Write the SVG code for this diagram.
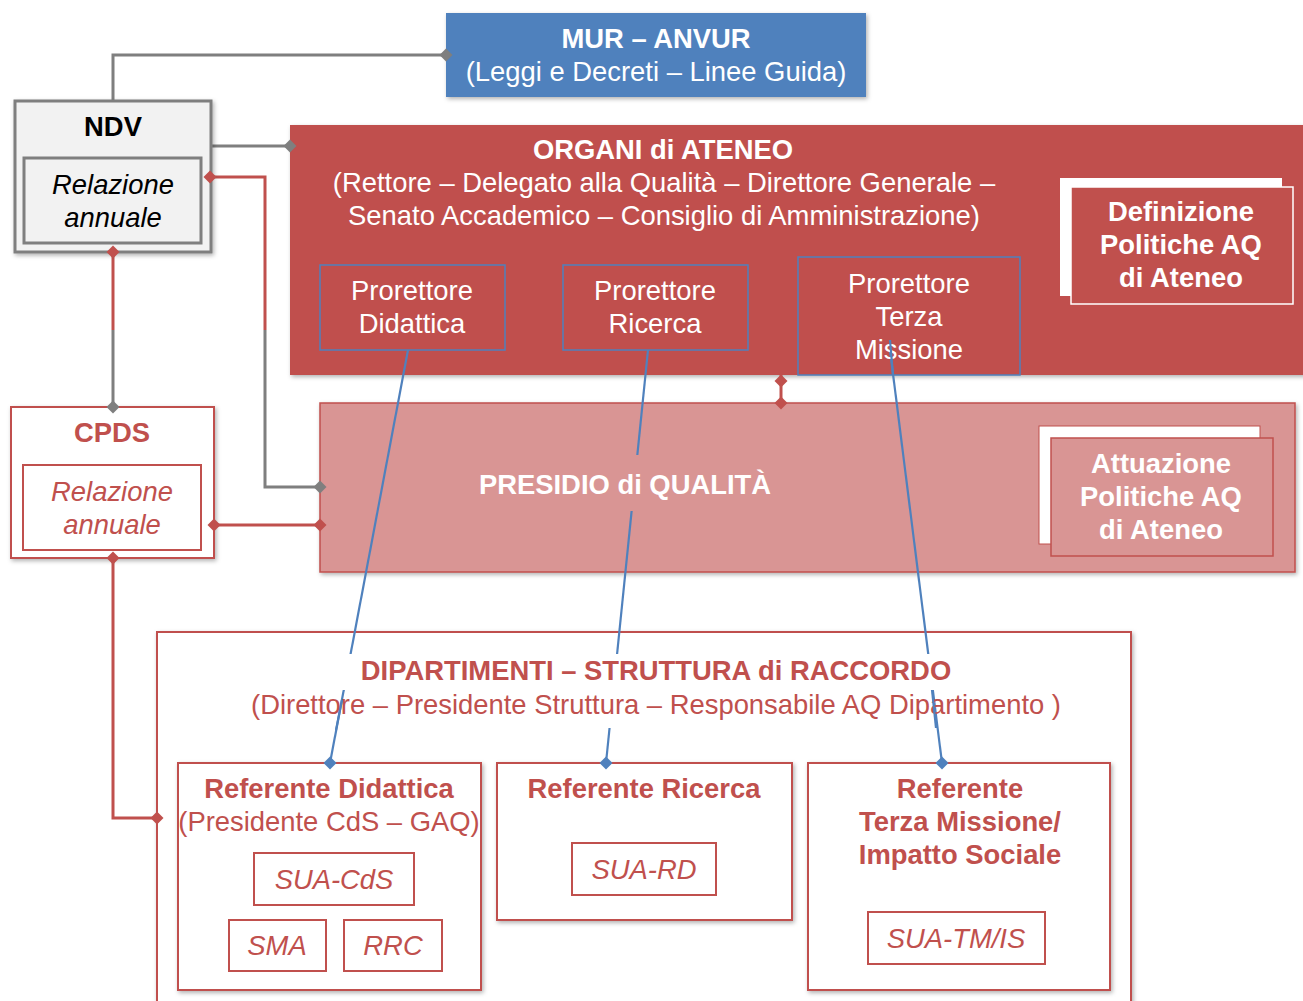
<svg xmlns="http://www.w3.org/2000/svg" width="1303" height="1001" viewBox="0 0 1303 1001">
<defs>
<filter id="sh" x="-5%" y="-5%" width="110%" height="115%"><feDropShadow dx="1.5" dy="2" stdDeviation="2" flood-color="#000" flood-opacity="0.3"/></filter>
<path id="dia" d="M0,-6.5 L6.5,0 L0,6.5 L-6.5,0 Z"/>
<style>
text{font-family:"Liberation Sans",Arial,sans-serif;text-anchor:middle;font-size:27.4px}
.b{font-weight:bold}
.i{font-style:italic}
.w{fill:#fff}
.r{fill:#C0504D}
.k{fill:#000}
.g{fill:none;stroke:#7F7F7F;stroke-width:3}
.rl{fill:none;stroke:#C0504D;stroke-width:3}
.bl{fill:none;stroke:#4F81BD;stroke-width:2.2}
.rbox{fill:#fff;stroke:#C0504D;stroke-width:2}
.pbox{fill:none;stroke:#4F81BD;stroke-width:1.5}
.dg{fill:#7F7F7F}
.dr{fill:#C0504D}
.db{fill:#4F81BD}
</style>
</defs>

<g id="organi">
<rect x="290" y="125" width="1020" height="250" fill="#C0504D" filter="url(#sh)"/>
<text x="663" y="159" class="b w">ORGANI di ATENEO</text>
<text x="664" y="192" class="w">(Rettore – Delegato alla Qualità – Direttore Generale –</text>
<text x="664" y="225" class="w">Senato Accademico – Consiglio di Amministrazione)</text>
</g>

<g id="presidio">
<rect x="320" y="403" width="975" height="169" fill="#D99594" stroke="#C0504D" stroke-width="1.5" filter="url(#sh)"/>
</g>

<g id="dipartimenti">
<rect x="157" y="632" width="974" height="380" class="rbox" stroke-width="1.5" filter="url(#sh)"/>
</g>

<g id="connectors">
<polyline class="g" points="113,101 113,55 446,55"/>
<polyline class="g" points="211,146 290,146"/>
<polyline class="rl" points="113,252 113,330"/>
<polyline class="g" points="113,330 113,407"/>
<polyline class="rl" points="210,177 265,177 265,330"/>
<polyline class="g" points="265,330 265,487 320,487"/>
<polyline class="rl" points="214,525 320,525"/>
<polyline class="rl" points="113,558 113,818 157,818"/>
<polyline class="rl" points="781,375 781,403"/>
<line class="bl" x1="408" y1="350" x2="330" y2="763"/>
<line class="bl" x1="648" y1="350" x2="606" y2="763"/>
<line class="bl" x1="890" y1="350" x2="942" y2="763"/>
<rect x="470" y="455" width="310" height="56" fill="#D99594"/>
<rect x="317" y="654" width="670" height="36" fill="#fff"/>
<rect x="347" y="690" width="583" height="38" fill="#fff"/>
</g>

<g id="mur">
<rect x="446" y="13" width="420" height="84" fill="#4F81BD" filter="url(#sh)"/>
<text x="656" y="48" class="b w">MUR – ANVUR</text>
<text x="656" y="81" class="w">(Leggi e Decreti – Linee Guida)</text>
</g>

<g id="ndv">
<rect x="15" y="101" width="196" height="151" fill="#F2F2F2" stroke="#7F7F7F" stroke-width="3" filter="url(#sh)"/>
<rect x="24" y="158" width="177" height="85" fill="#F2F2F2" stroke="#7F7F7F" stroke-width="3"/>
<text x="113" y="136" class="b k">NDV</text>
<text x="113" y="194" class="i k">Relazione</text>
<text x="113" y="227" class="i k">annuale</text>
</g>

<g id="cpds">
<rect x="11" y="407" width="203" height="151" class="rbox" filter="url(#sh)"/>
<rect x="23" y="465" width="178" height="85" class="rbox"/>
<text x="112" y="442" class="b r">CPDS</text>
<text x="112" y="501" class="i r">Relazione</text>
<text x="112" y="534" class="i r">annuale</text>
</g>

<g id="prorettore-didattica">
<rect x="320" y="265" width="185" height="85" class="pbox"/>
<text x="412" y="300" class="w">Prorettore</text>
<text x="412" y="333" class="w">Didattica</text>
</g>

<g id="prorettore-ricerca">
<rect x="563" y="265" width="185" height="85" class="pbox"/>
<text x="655" y="300" class="w">Prorettore</text>
<text x="655" y="333" class="w">Ricerca</text>
</g>

<g id="prorettore-terza">
<rect x="798" y="257" width="222" height="118" class="pbox"/>
<text x="909" y="293" class="w">Prorettore</text>
<text x="909" y="326" class="w">Terza</text>
<text x="909" y="359" class="w">Missione</text>
</g>

<g id="definizione">
<rect x="1060" y="178" width="222" height="118" fill="#fff"/>
<rect x="1071" y="187" width="222" height="117" fill="#C0504D" stroke="#fff" stroke-width="1.5"/>
<text x="1181" y="221" class="b w">Definizione</text>
<text x="1181" y="254" class="b w">Politiche AQ</text>
<text x="1181" y="287" class="b w">di Ateneo</text>
</g>

<g id="presidio-label">
<text x="625" y="494" class="b w">PRESIDIO di QUALITÀ</text>
</g>

<g id="attuazione">
<rect x="1039" y="426" width="221" height="118" fill="#fff" stroke="#C0504D" stroke-width="1"/>
<rect x="1051" y="438" width="222" height="118" fill="#D99594" stroke="#C0504D" stroke-width="1.5"/>
<text x="1161" y="473" class="b w">Attuazione</text>
<text x="1161" y="506" class="b w">Politiche AQ</text>
<text x="1161" y="539" class="b w">di Ateneo</text>
</g>

<g id="dipartimenti-label">
<text x="656" y="680" class="b r">DIPARTIMENTI – STRUTTURA di RACCORDO</text>
<text x="656" y="714" class="r">(Direttore – Presidente Struttura – Responsabile AQ Dipartimento )</text>
</g>

<g id="ref-didattica">
<rect x="178" y="763" width="303" height="227" class="rbox" stroke-width="1.5" filter="url(#sh)"/>
<text x="329" y="798" class="b r">Referente Didattica</text>
<text x="329" y="831" class="r">(Presidente CdS – GAQ)</text>
<rect x="254" y="853" width="160" height="52" class="rbox"/>
<text x="334" y="889" class="i r">SUA-CdS</text>
<rect x="229" y="920" width="97" height="51" class="rbox"/>
<text x="277" y="955" class="i r">SMA</text>
<rect x="344" y="920" width="98" height="51" class="rbox"/>
<text x="393" y="955" class="i r">RRC</text>
</g>

<g id="ref-ricerca">
<rect x="497" y="763" width="295" height="157" class="rbox" stroke-width="1.5" filter="url(#sh)"/>
<text x="644" y="798" class="b r">Referente Ricerca</text>
<rect x="572" y="843" width="144" height="52" class="rbox"/>
<text x="644" y="879" class="i r">SUA-RD</text>
</g>

<g id="ref-terza">
<rect x="808" y="763" width="302" height="227" class="rbox" stroke-width="1.5" filter="url(#sh)"/>
<text x="960" y="798" class="b r">Referente</text>
<text x="960" y="831" class="b r">Terza Missione/</text>
<text x="960" y="864" class="b r">Impatto Sociale</text>
<rect x="868" y="912" width="177" height="52" class="rbox"/>
<text x="956" y="948" class="i r">SUA-TM/IS</text>
</g>

<g id="connector-overlays">
<line class="bl" x1="890" y1="340" x2="893" y2="375"/>
<line class="bl" x1="342" y1="700" x2="336" y2="730"/>
<line class="bl" x1="932" y1="690" x2="936" y2="728"/>
<use href="#dia" class="dg" x="446" y="55"/>
<use href="#dia" class="dg" x="290" y="146"/>
<use href="#dia" class="dr" x="113" y="252"/>
<use href="#dia" class="dg" x="113" y="407"/>
<use href="#dia" class="dr" x="210" y="177"/>
<use href="#dia" class="dg" x="320" y="487"/>
<use href="#dia" class="dr" x="214" y="525"/>
<use href="#dia" class="dr" x="320" y="525"/>
<use href="#dia" class="dr" x="113" y="558"/>
<use href="#dia" class="dr" x="157" y="818"/>
<use href="#dia" class="dr" x="781" y="381"/>
<use href="#dia" class="dr" x="781" y="403"/>
<use href="#dia" class="db" x="330" y="763"/>
<use href="#dia" class="db" x="606" y="763"/>
<use href="#dia" class="db" x="942" y="763"/>
</g>
</svg>
